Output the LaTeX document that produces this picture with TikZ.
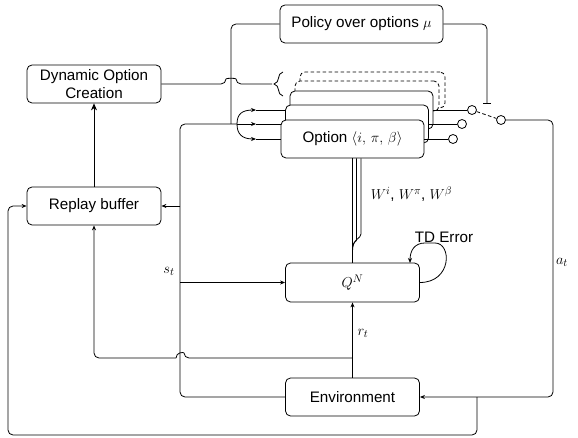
\documentclass[tikz,border=0pt]{standalone}
\usepackage{fontspec}
\setmainfont{Liberation Sans}
\usetikzlibrary{arrows.meta,backgrounds,decorations.pathreplacing}
\tikzset{
  blk/.style={draw,line width=0.8pt,rounded corners=5pt,fill=white,minimum height=38pt,
    align=center,inner sep=2pt,font=\fontsize{15.2}{18}\selectfont},
  wire/.style={line width=0.8pt,rounded corners=5pt},
  arr/.style={wire,-{Stealth[length=5pt,width=4pt]}},
  port/.style={draw,circle,fill=white,minimum size=9pt,inner sep=0pt,line width=0.8pt},
  lbl/.style={font=\fontsize{15.2}{18}\selectfont},
  ghost/.style={dash pattern=on 3.5pt off 2.5pt}
}
\begin{document}
\begin{tikzpicture}[x=1pt,y=-1pt]
\useasboundingbox (0,0) rectangle (578,438);
% blocks
\node[blk,minimum width=163pt] (pol) at (361.5,24) {Policy over options $\mu$};
\node[blk,minimum width=134pt] (doc) at (94,84) {Dynamic Option\\Creation};
\node[blk,minimum width=134pt] (rb) at (94,206) {Replay buffer};
% stack of options
\node[blk,ghost,minimum width=145pt,minimum height=36pt] (optD2) at (372.5,90) {};
\node[blk,ghost,minimum width=144pt,minimum height=30pt] (optD1) at (367,96) {};
\node[blk,minimum width=143pt] (optB) at (361.5,110) {};
\node[blk,minimum width=143pt] (optM) at (357,124) {};
\node[blk,minimum width=143pt] (optF) at (352.5,139) {Option $\langle i,\,\pi,\,\beta\rangle$};
\node[blk,minimum width=134pt,minimum height=39pt] (qn) at (352.5,282.5) {$Q^N$};
\node[blk,minimum width=134pt] (env) at (352.5,397) {Environment};
% switch
\node[port] (pB) at (472,110) {};
\node[port] (pM) at (462,124) {};
\node[port] (pF) at (453,139) {};
\node[port] (sw) at (501,120) {};
% labels
\node[lbl] (tdLbl) at (444,237) {TD Error};
\node[lbl] (wLbl) at (411.5,194) {$W^i$, $W^\pi$, $W^\beta$};
\node[lbl] (stLbl) at (169,271) {$s_t$};
\node[lbl] (rtLbl) at (363,333) {$r_t$};
\node[lbl] (atLbl) at (562,262) {$a_t$};
% points on the wires
\coordinate (jn) at (237,124);
\coordinate (polIn) at (231,124);
\coordinate (inB) at (256,110);
\coordinate (inM) at (256,124);
\coordinate (inF) at (256,139);
\coordinate (stR) at (180,206);
\coordinate (stQ) at (180,282.5);
\coordinate (rtJ) at (352.5,358);
\coordinate (hopR) at (184,358);
\coordinate (hopL) at (176,358);
\coordinate (atC) at (553,397);
\coordinate (atJ) at (477,397);
\coordinate (swBar) at (487,104);
\coordinate (brTip) at (272,84);
\coordinate (tdIn) at (410,263);
\begin{scope}[on background layer]
\draw[wire] (pol.west) -| (polIn);
\draw[wire] (env.west) -| (180,124) -- (jn);
\draw[arr] (jn) -- (inM);
\draw[arr] (jn) .. controls (237,114) and (242,110) .. (inB);
\draw[arr] (jn) .. controls (237,134) and (242,139) .. (inF);
\draw[wire] (inB) -- (optB.west);
\draw[wire] (inM) -- (optM.west);
\draw[wire] (inF) -- (optF.west);
\end{scope}
% outputs of the options
\draw[wire] (optB.east) -- (pB);
\draw[wire] (optM.east) -- (pM);
\draw[wire] (optF.east) -- (pF);
\draw[wire,ghost] (pB) -- (sw);
\draw[wire,-{Bar[width=8pt]}] (pol.east) -| (swBar);
% s_t
\draw[arr] (stR) -- (rb.east);
\draw[arr] (stQ) -- (qn.west);
% r_t
\draw[arr] (env.north) -- (qn.south);
\draw[wire] (rtJ) -- (hopR) .. controls (184,352) and (176,352) .. (hopL);
\draw[arr] (hopL) -| (rb.south);
% a_t
\draw[arr] (sw) -| (atC) -- (env.east);
\draw[arr] (atJ) |- (8,435) |- (rb.west);
% replay buffer -> option creation
\draw[wire,-{Stealth[length=7pt,width=6pt]}] (rb.north) -- (doc.south);
\draw[wire] (doc.east) -- (226,84) .. controls (226,78) and (236,78) .. (236,84) -- (brTip);
\draw[line width=0.8pt,decorate,decoration={brace,amplitude=9pt}] (283,96) -- (283,72);
% weights
\draw[wire] (optF.south) -- (qn.north);
\draw[wire] ([xshift=4pt]optF.south) -- (356.5,235) .. controls (356.5,242) and (352.5,241) .. (352.5,249);
\draw[wire] ([xshift=8.5pt]optF.south) -- (361,229) .. controls (361,239) and (352.5,238) .. (352.5,251);
% TD error
\draw[arr] (qn.east) .. controls (452,282.5) and (452,243) .. (430,243) .. controls (415,243) and (410,250) .. (tdIn);
\end{tikzpicture}
\end{document}
